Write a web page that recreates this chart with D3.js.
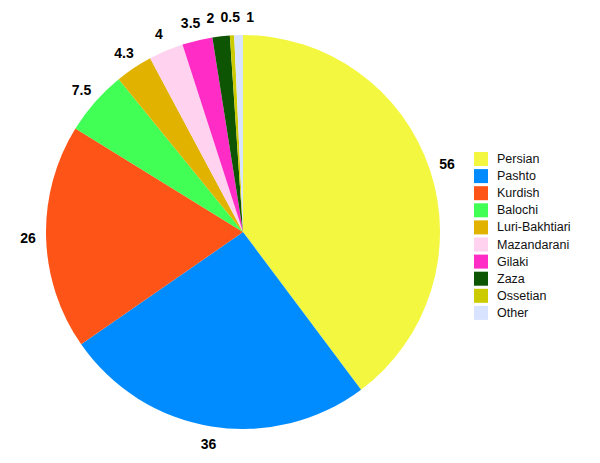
<!DOCTYPE html>
<html>
<head>
<meta charset="utf-8">
<script src="https://cdn.jsdelivr.net/npm/d3@7"></script>
<style>
  body { margin: 0; background: #fff; }
  svg { display: block; }
</style>
</head>
<body>
<svg width="600" height="463"></svg>
<script>
// data
var languages = ["Persian", "Pashto", "Kurdish", "Balochi", "Luri-Bakhtiari",
    "Mazandarani", "Gilaki", "Zaza", "Ossetian", "Other"];
var speakers = [56, 36, 26, 7.5, 4.3, 4, 3.5, 2, 0.5, 1];
var sliceColors = ["#f3f73f", "#008cff", "#ff5417", "#42ff55", "#e1b200",
    "#ffd3ef", "#ff2dc6", "#0d5502", "#cccb00", "#d8e3ff"];

var svg = d3.select("svg"),
    cx = 243, cy = 232,
    radius = 197;

var pie = d3.pie().sort(null).value(d => d.value);
var arcs = pie(languages.map((l, i) => ({ name: l, value: speakers[i], color: sliceColors[i] })));

var arc = d3.arc().innerRadius(0).outerRadius(radius);
var labelArc = d3.arc().innerRadius(215).outerRadius(215);

var g = svg.append("g").attr("transform", "translate(" + cx + "," + cy + ")");

g.selectAll("path")
    .data(arcs)
    .enter().append("path")
    .attr("d", arc)
    .attr("fill", d => d.data.color);

arcs.forEach(d => {
    var c = labelArc.centroid(d);
    d.lx = c[0];
    d.ly = c[1];
});

var labels = g.selectAll("text")
    .data(arcs)
    .enter().append("text")
    .attr("text-anchor", "middle")
    .attr("dominant-baseline", "central")
    .style("font-family", "'Liberation Sans', Arial, sans-serif")
    .style("font-weight", "bold")
    .style("font-size", "14px")
    .text(d => d.data.value);

// push apart labels that touch (the thin slices at the top)
labels.each(function (d) { d.w = this.getBBox().width; });
for (var iter = 0; iter < 30; iter++) {
    for (var i = 1; i < arcs.length; i++) {
        var a = arcs[i - 1], b = arcs[i];
        if (Math.abs(a.ly - b.ly) > 14) continue;
        var gap = (a.w + b.w) / 2 + 6 - Math.abs(b.lx - a.lx);
        if (gap > 0) {
            var dir = b.lx >= a.lx ? 1 : -1;
            a.lx -= dir * gap / 2;
            b.lx += dir * gap / 2;
        }
    }
}
labels.attr("transform", d => "translate(" + d.lx + "," + d.ly + ")");

// legend
var legend = svg.append("g").attr("transform", "translate(474,152)");
var item = legend.selectAll("g")
    .data(languages)
    .enter().append("g")
    .attr("transform", (d, i) => "translate(0," + i * 17.1 + ")");

item.append("rect")
    .attr("width", 14)
    .attr("height", 14)
    .attr("fill", (d, i) => sliceColors[i]);

item.append("text")
    .attr("x", 23)
    .attr("y", 7)
    .attr("dominant-baseline", "central")
    .style("font-family", "'Liberation Sans', Arial, sans-serif")
    .style("font-size", "12.5px")
    .attr("fill", "#111")
    .text(d => d);
</script>
</body>
</html>
